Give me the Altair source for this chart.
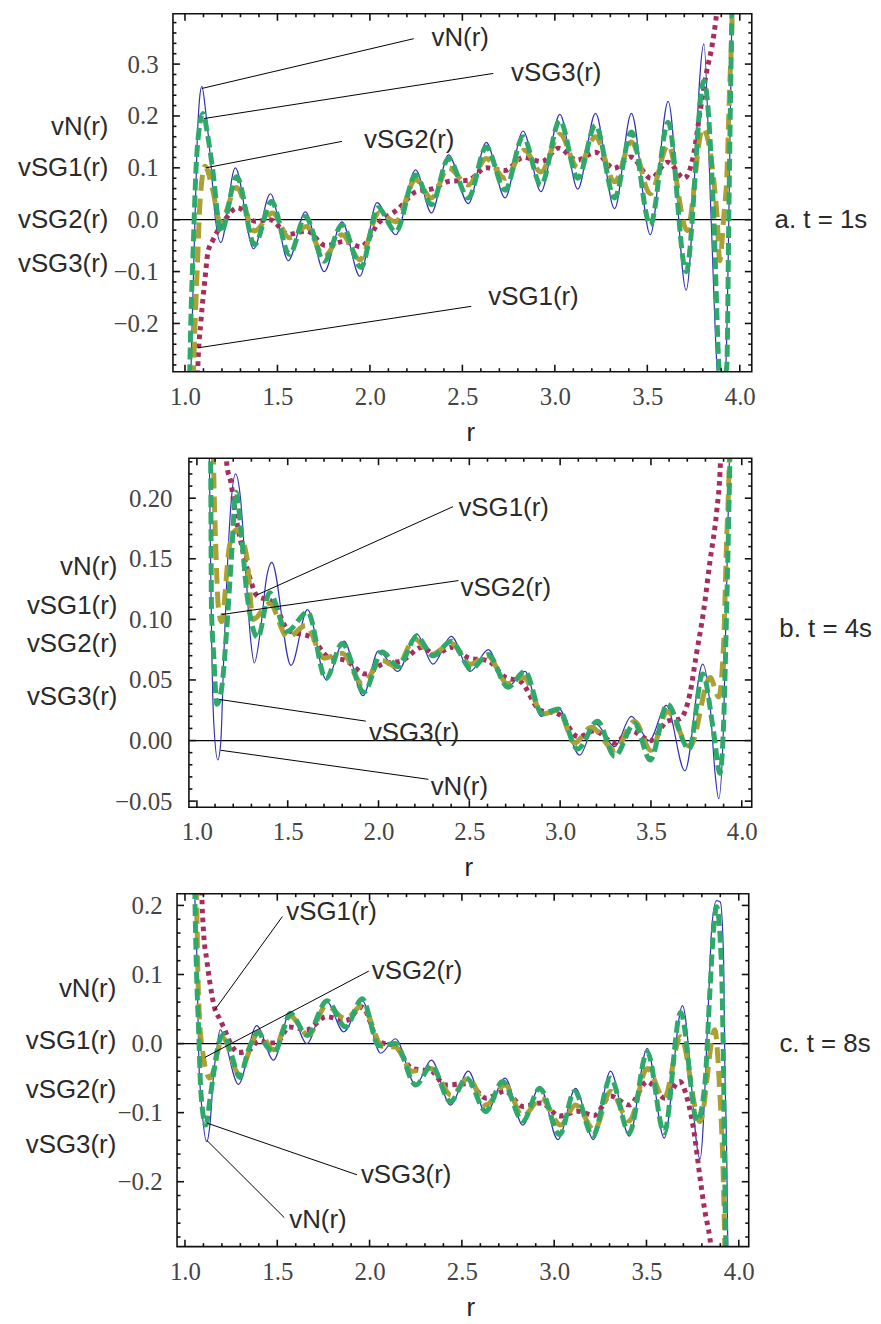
import altair as alt
import pandas as pd

# ---------------- panel a : t = 1s ----------------
a_r_vN = [1.022, 1.035, 1.054, 1.066, 1.078, 1.091, 1.113, 1.14, 1.161, 1.194, 1.272, 1.371, 1.462, 1.559, 1.651,
          1.753, 1.849, 1.946, 2.038, 2.140, 2.247, 2.333, 2.425, 2.532, 2.629, 2.731, 2.828, 2.925, 3.027, 3.124,
          3.220, 3.323, 3.414, 3.516, 3.613, 3.710, 3.806, 3.844, 3.876, 3.900, 3.925, 3.945, 3.957, 3.970]
a_v_vN = [-0.45, -0.25, 0.0, 0.15, 0.23, 0.257, 0.205, 0.109, 0.013, -0.044, 0.100, -0.056, 0.050, -0.079, 0.015,
          -0.100, -0.004, -0.109, 0.033, -0.029, 0.096, 0.013, 0.125, 0.031, 0.149, 0.042, 0.171, 0.054, 0.203, 0.059,
          0.205, 0.021, 0.205, -0.029, 0.228, -0.136, 0.339, 0.013, -0.280, -0.360, -0.280, 0.100, 0.390, 0.600]

a_r_SG1 = [1.060, 1.070, 1.086, 1.108, 1.124, 1.150, 1.188, 1.220, 1.285, 1.380, 1.460, 1.560, 1.660, 1.760, 1.860,
           1.950, 2.050, 2.150, 2.250, 2.340, 2.430, 2.530, 2.630, 2.730, 2.830, 2.930, 3.020, 3.120, 3.220, 3.320,
           3.410, 3.520, 3.610, 3.700, 3.750, 3.785, 3.820, 3.850, 3.870, 3.890]
a_v_SG1 = [-0.42, -0.28, -0.197, -0.115, -0.063, -0.040, -0.015, 0.002, 0.023, -0.003, 0.000, -0.028, -0.022, -0.050,
           -0.042, -0.052, -0.005, 0.020, 0.054, 0.060, 0.074, 0.076, 0.100, 0.095, 0.120, 0.112, 0.138, 0.115, 0.130,
           0.099, 0.121, 0.080, 0.111, 0.080, 0.125, 0.207, 0.284, 0.335, 0.383, 0.450]

a_r_SG2 = [1.035, 1.048, 1.059, 1.070, 1.080, 1.108, 1.150, 1.190, 1.280, 1.376, 1.473, 1.565, 1.656, 1.753, 1.849,
           1.946, 2.048, 2.140, 2.247, 2.333, 2.425, 2.532, 2.629, 2.731, 2.835, 2.925, 3.027, 3.124, 3.220, 3.323,
           3.414, 3.516, 3.613, 3.715, 3.800, 3.876, 3.892, 3.914, 3.930, 3.946, 3.957, 3.970]
a_v_SG2 = [-0.45, -0.268, -0.159, -0.063, 0.027, 0.103, 0.057, -0.005, 0.062, -0.022, 0.013, -0.035, -0.013, -0.071,
           -0.029, -0.077, 0.013, -0.004, 0.077, 0.042, 0.100, 0.067, 0.118, 0.080, 0.134, 0.092, 0.165, 0.100, 0.160,
           0.073, 0.150, 0.050, 0.144, -0.021, 0.176, 0.013, -0.079, 0.008, 0.084, 0.262, 0.364, 0.600]

a_r_SG3 = [1.020, 1.030, 1.045, 1.060, 1.075, 1.097, 1.124, 1.150, 1.194, 1.280, 1.376, 1.468, 1.565, 1.651, 1.753,
           1.849, 1.952, 2.043, 2.140, 2.247, 2.333, 2.425, 2.532, 2.629, 2.731, 2.828, 2.925, 3.027, 3.124, 3.220,
           3.323, 3.414, 3.516, 3.613, 3.710, 3.806, 3.860, 3.887, 3.905, 3.930, 3.941, 3.957, 3.970]
a_v_SG3 = [-0.40, -0.22, -0.05, 0.10, 0.17, 0.205, 0.160, 0.096, -0.025, 0.083, -0.048, 0.035, -0.067, 0.006, -0.080,
           -0.010, -0.092, 0.023, -0.023, 0.086, 0.029, 0.118, 0.042, 0.140, 0.057, 0.160, 0.067, 0.191, 0.080, 0.182,
           0.042, 0.169, -0.010, 0.188, -0.100, 0.268, 0.000, -0.280, -0.330, -0.280, 0.013, 0.390, 0.600]

# ---------------- panel b : t = 4s ----------------
b_r_vN = [1.060, 1.069, 1.075, 1.082, 1.093, 1.115, 1.131, 1.148, 1.166, 1.186, 1.213, 1.240, 1.270, 1.296, 1.316,
          1.350, 1.383, 1.412, 1.518, 1.609, 1.713, 1.810, 1.914, 2.000, 2.106, 2.210, 2.300, 2.400, 2.505, 2.604,
          2.708, 2.806, 2.895, 2.990, 3.107, 3.195, 3.300, 3.392, 3.490, 3.585, 3.687, 3.785, 3.826, 3.853, 3.873,
          3.900, 3.912, 3.928, 3.945]
b_v_vN = [0.300, 0.227, 0.151, 0.075, 0.014, -0.016, -0.002, 0.069, 0.137, 0.192, 0.220, 0.200, 0.137, 0.083, 0.064,
          0.091, 0.134, 0.147, 0.062, 0.108, 0.050, 0.082, 0.037, 0.074, 0.057, 0.088, 0.063, 0.086, 0.057, 0.075,
          0.044, 0.057, 0.020, 0.027, -0.012, 0.014, -0.005, 0.020, 0.000, 0.029, -0.025, 0.063, 0.028, -0.027, -0.048,
          0.014, 0.096, 0.206, 0.320]

b_r_SG1 = [1.155, 1.166, 1.186, 1.213, 1.246, 1.296, 1.328, 1.420, 1.503, 1.630, 1.722, 1.820, 1.930, 2.020, 2.130,
           2.240, 2.310, 2.400, 2.500, 2.600, 2.700, 2.780, 2.890, 2.990, 3.100, 3.190, 3.300, 3.390, 3.500, 3.590,
           3.660, 3.715, 3.750, 3.790, 3.825, 3.862, 3.880, 3.890]
b_v_SG1 = [0.260, 0.226, 0.214, 0.186, 0.161, 0.132, 0.120, 0.114, 0.091, 0.085, 0.069, 0.066, 0.055, 0.063, 0.066,
           0.077, 0.071, 0.077, 0.068, 0.066, 0.052, 0.049, 0.025, 0.022, 0.003, 0.008, -0.002, 0.008, 0.000, 0.016,
           0.018, 0.039, 0.071, 0.107, 0.148, 0.189, 0.221, 0.260]

b_r_SG2 = [1.085, 1.092, 1.104, 1.118, 1.135, 1.180, 1.219, 1.273, 1.310, 1.400, 1.500, 1.600, 1.700, 1.800, 1.910,
           2.020, 2.100, 2.200, 2.290, 2.400, 2.505, 2.600, 2.710, 2.800, 2.905, 2.990, 3.080, 3.170, 3.300, 3.410,
           3.500, 3.590, 3.715, 3.826, 3.873, 3.900, 3.917, 3.928, 3.940]
b_v_SG2 = [0.300, 0.227, 0.160, 0.110, 0.098, 0.161, 0.174, 0.153, 0.100, 0.113, 0.085, 0.095, 0.068, 0.072, 0.047,
           0.066, 0.061, 0.084, 0.071, 0.080, 0.063, 0.070, 0.047, 0.052, 0.022, 0.025, -0.002, 0.011, -0.008, 0.016,
           -0.008, 0.024, -0.005, 0.052, 0.036, 0.080, 0.167, 0.211, 0.300]

b_r_SG3 = [1.072, 1.076, 1.080, 1.093, 1.110, 1.137, 1.166, 1.190, 1.215, 1.245, 1.273, 1.300, 1.335, 1.400, 1.495,
           1.610, 1.710, 1.800, 1.920, 2.020, 2.110, 2.210, 2.300, 2.400, 2.510, 2.604, 2.713, 2.806, 2.900, 2.990,
           3.096, 3.206, 3.300, 3.410, 3.496, 3.590, 3.710, 3.785, 3.846, 3.880, 3.900, 3.917, 3.934, 3.945]
b_v_SG3 = [0.300, 0.227, 0.110, 0.069, 0.030, 0.044, 0.096, 0.151, 0.205, 0.170, 0.124, 0.098, 0.085, 0.122, 0.090,
           0.106, 0.051, 0.080, 0.040, 0.073, 0.061, 0.086, 0.070, 0.082, 0.059, 0.071, 0.044, 0.057, 0.022, 0.026,
           -0.007, 0.016, -0.013, 0.014, -0.016, 0.030, -0.007, 0.055, 0.006, -0.027, 0.014, 0.110, 0.227, 0.320]

# ---------------- panel c : t = 8s ----------------
c_r_vN = [1.050, 1.054, 1.065, 1.075, 1.092, 1.118, 1.135, 1.156, 1.172, 1.190, 1.290, 1.388, 1.480, 1.570, 1.660,
          1.765, 1.860, 1.960, 2.060, 2.140, 2.250, 2.335, 2.438, 2.535, 2.630, 2.734, 2.830, 2.922, 3.020, 3.116,
          3.213, 3.305, 3.407, 3.504, 3.596, 3.695, 3.790, 3.838, 3.854, 3.880, 3.900, 3.918, 3.924, 3.935, 3.940,
          3.945]
c_v_vN = [0.300, 0.210, 0.121, -0.023, -0.095, -0.142, -0.118, -0.042, -0.009, 0.020, -0.059, 0.026, -0.024, 0.046,
          0.000, 0.062, 0.017, 0.062, -0.014, 0.007, -0.060, -0.024, -0.089, -0.040, -0.101, -0.050, -0.118, -0.062,
          -0.139, -0.065, -0.139, -0.040, -0.134, -0.007, -0.137, 0.055, -0.167, 0.073, 0.170, 0.207, 0.205, 0.121,
          -0.023, -0.167, -0.282, -0.360]

c_r_SG1 = [1.088, 1.092, 1.100, 1.118, 1.135, 1.160, 1.190, 1.215, 1.253, 1.290, 1.350, 1.400, 1.450, 1.495, 1.565,
           1.660, 1.765, 1.870, 1.960, 2.050, 2.140, 2.230, 2.335, 2.410, 2.535, 2.630, 2.734, 2.830, 2.930, 3.030,
           3.127, 3.218, 3.305, 3.407, 3.504, 3.600, 3.680, 3.720, 3.757, 3.790, 3.816, 3.843, 3.860]
c_v_SG1 = [0.260, 0.210, 0.164, 0.121, 0.088, 0.052, 0.035, 0.020, -0.003, -0.013, -0.009, 0.004, 0.001, 0.001, 0.024,
           0.020, 0.039, 0.033, 0.053, 0.003, -0.004, -0.036, -0.040, -0.060, -0.058, -0.079, -0.069, -0.091, -0.086,
           -0.105, -0.098, -0.104, -0.076, -0.089, -0.055, -0.079, -0.055, -0.079, -0.127, -0.194, -0.242, -0.281,
           -0.320]

c_r_SG2 = [1.058, 1.064, 1.070, 1.078, 1.095, 1.108, 1.135, 1.205, 1.290, 1.400, 1.480, 1.570, 1.668, 1.765, 1.870,
           1.960, 2.070, 2.140, 2.230, 2.335, 2.443, 2.535, 2.630, 2.734, 2.830, 2.930, 3.035, 3.116, 3.218, 3.305,
           3.407, 3.504, 3.596, 3.685, 3.790, 3.870, 3.895, 3.918, 3.925]
c_v_SG2 = [0.300, 0.200, 0.100, 0.040, -0.010, -0.032, -0.050, 0.008, -0.042, 0.016, -0.009, 0.040, 0.012, 0.055,
           0.036, 0.055, -0.004, -0.005, -0.040, -0.036, -0.075, -0.050, -0.089, -0.060, -0.105, -0.079, -0.118,
           -0.089, -0.125, -0.069, -0.112, -0.036, -0.079, 0.010, -0.113, 0.020, -0.060, -0.214, -0.300]

c_r_SG3 = [1.050, 1.054, 1.060, 1.075, 1.086, 1.113, 1.135, 1.156, 1.183, 1.210, 1.253, 1.296, 1.344, 1.398, 1.440,
           1.485, 1.533, 1.570, 1.660, 1.770, 1.870, 1.960, 2.050, 2.140, 2.250, 2.335, 2.438, 2.525, 2.630, 2.720,
           2.830, 2.922, 3.030, 3.110, 3.210, 3.305, 3.407, 3.504, 3.596, 3.685, 3.775, 3.816, 3.843, 3.865, 3.880,
           3.905, 3.918, 3.926, 3.932]
c_v_SG3 = [0.300, 0.210, 0.130, 0.012, -0.070, -0.118, -0.081, -0.042, 0.001, 0.013, -0.017, -0.049, -0.009, 0.016,
           -0.003, -0.013, 0.020, 0.044, 0.012, 0.062, 0.024, 0.065, -0.003, 0.000, -0.060, -0.032, -0.084, -0.050,
           -0.098, -0.055, -0.112, -0.065, -0.132, -0.069, -0.134, -0.050, -0.129, -0.012, -0.129, 0.045, -0.112,
           -0.060, 0.073, 0.170, 0.198, 0.120, -0.050, -0.230, -0.330]

# ---------------- annotations (leader lines and labels, data coordinates) ----------------
series_names = ["vN(r)", "vSG1(r)", "vSG2(r)", "vSG3(r)"]

a_ann_label = ["vN(r)", "vSG3(r)", "vSG2(r)", "vSG1(r)"]
a_ann_x1 = [1.091, 1.102, 1.113, 1.070]
a_ann_y1 = [0.253, 0.195, 0.100, -0.247]
a_ann_x2 = [2.237, 2.667, 1.849, 2.548]
a_ann_y2 = [0.349, 0.282, 0.151, -0.167]
a_ann_tx = [2.333, 2.763, 1.968, 2.640]
a_ann_ty = [0.351, 0.282, 0.153, -0.149]

b_ann_label = ["vSG1(r)", "vSG2(r)", "vSG3(r)", "vN(r)"]
b_ann_x1 = [1.328, 1.137, 1.120, 1.130]
b_ann_y1 = [0.120, 0.104, 0.034, -0.008]
b_ann_x2 = [2.410, 2.440, 1.930, 2.275]
b_ann_y2 = [0.193, 0.132, 0.016, -0.032]
b_ann_tx = [2.440, 2.452, 1.947, 2.287]
b_ann_ty = [0.192, 0.126, 0.006, -0.038]

c_ann_label = ["vSG1(r)", "vSG2(r)", "vSG3(r)", "vN(r)"]
c_ann_x1 = [1.162, 1.108, 1.118, 1.118]
c_ann_y1 = [0.049, -0.020, -0.115, -0.140]
c_ann_x2 = [1.528, 1.996, 1.932, 1.538]
c_ann_y2 = [0.184, 0.105, -0.190, -0.252]
c_ann_tx = [1.549, 2.012, 1.953, 1.565]
c_ann_ty = [0.190, 0.105, -0.190, -0.255]

a_left_x, a_left_y = 0.586, [0.178, 0.100, 0.000, -0.086]
b_left_x, b_left_y = 0.562, [0.143, 0.111, 0.080, 0.036]
c_left_x, c_left_y = 0.628, [0.079, 0.004, -0.068, -0.147]

a_tag, a_tag_x, a_tag_y = "a. t = 1s", 4.188, 0.000
b_tag, b_tag_x, b_tag_y = "b. t = 4s", 4.207, 0.092
c_tag, c_tag_x, c_tag_y = "c. t = 8s", 4.220, 0.000

# frame extents (r) and y ranges of the three panels
a_frame, a_ydom = [0.935, 4.065], [-0.293, 0.397]
b_frame, b_ydom = [0.956, 4.055], [-0.055, 0.233]
c_frame, c_ydom = [0.957, 4.054], [-0.294, 0.217]

# tick values
x_major = [1.0, 1.5, 2.0, 2.5, 3.0, 3.5, 4.0]
x_minor = [round(1.0 + 0.1 * k, 2) for k in range(31)]
a_y_major = [-0.2, -0.1, 0.0, 0.1, 0.2, 0.3]
a_y_minor = [round(-0.28 + 0.02 * k, 2) for k in range(34)]
b_y_major = [-0.05, 0.0, 0.05, 0.10, 0.15, 0.20]
b_y_minor = [round(-0.05 + 0.01 * k, 2) for k in range(29)]
c_y_major = [-0.2, -0.1, 0.0, 0.1, 0.2]
c_y_minor = [round(-0.28 + 0.02 * k, 2) for k in range(25)]

STYLE = {
    "vN(r)": dict(color="#3232b2", strokeWidth=1.2),
    "vSG1(r)": dict(color="#a52d60", strokeWidth=5, strokeDash=[4.5, 4.5]),
    "vSG2(r)": dict(color="#aaa034", strokeWidth=5, strokeDash=[16, 8]),
    "vSG3(r)": dict(color="#2fa86b", strokeWidth=5, strokeDash=[12, 5]),
}
SANS = "Liberation Sans"
SERIF = "Liberation Serif"
TXT = 26
VIEW_W = 582          # common view: left edge of panel a's frame to the right edge
VIEW_LEFT_PX = 173    # page x of the common view's left edge


def make_panel(curves, frame, xpx, ydom, H, yvals, yminor, yfmt, lpad, title_x, ann, left_x, left_y, tag):
    # xpx: page pixel of r = 1.0 and r = 4.0 in this panel, used to place the shared view
    ppu = (xpx[1] - xpx[0]) / 3.0
    xdom = [1.0 - (xpx[0] - VIEW_LEFT_PX) / ppu, 1.0 - (xpx[0] - VIEW_LEFT_PX - VIEW_W) / ppu]
    xs = alt.Scale(domain=xdom, nice=False, zero=False)
    ys = alt.Scale(domain=ydom, nice=False, zero=False)
    xaxis = alt.Axis(values=x_major, format=".1f", title="r", ticks=False, tickSize=0, domain=False, grid=False,
                     labelPadding=13, titlePadding=10, titleX=title_x, labelFlush=False, labelOverlap=False)
    yaxis = alt.Axis(values=yvals, format=yfmt, title=None, ticks=False, tickSize=0, domain=False, grid=False,
                     labelPadding=lpad, labelFlush=False, labelOverlap=False)

    def X(f):
        return alt.X(f, type="quantitative", scale=xs, axis=xaxis)

    def Y(f):
        return alt.Y(f, type="quantitative", scale=ys, axis=yaxis)

    # frame box
    fdf = pd.DataFrame({"x1": [frame[0]], "x2": [frame[1]], "y1": [ydom[0]], "y2": [ydom[1]]})
    box = alt.Chart(fdf).mark_rect(fillOpacity=0, stroke="#111", strokeWidth=1.6).encode(
        x=X("x1"), x2="x2", y=Y("y1"), y2="y2")

    # inward frame ticks (7 px major, 3.5 px minor)
    dy = 7 * (ydom[1] - ydom[0]) / H
    dx = 7 / ppu
    xt = pd.DataFrame({"pos": x_minor, "d": [dy if v in x_major else dy / 2 for v in x_minor]})
    xt["b1"] = ydom[0]
    xt["b2"] = ydom[0] + xt["d"]
    xt["t1"] = ydom[1]
    xt["t2"] = ydom[1] - xt["d"]
    yt = pd.DataFrame({"pos": yminor,
                       "d": [dx if any(abs(v - m) < 1e-9 for m in yvals) else dx / 2 for v in yminor]})
    yt["l1"] = frame[0]
    yt["l2"] = frame[0] + yt["d"]
    yt["r1"] = frame[1]
    yt["r2"] = frame[1] - yt["d"]
    tick_style = dict(color="#111", strokeWidth=1.6)
    t_bottom = alt.Chart(xt).mark_rule(**tick_style).encode(x=X("pos"), y=Y("b1"), y2="b2")
    t_top = alt.Chart(xt).mark_rule(**tick_style).encode(x=X("pos"), y=Y("t1"), y2="t2")
    t_left = alt.Chart(yt).mark_rule(**tick_style).encode(y=Y("pos"), x=X("l1"), x2="l2")
    t_right = alt.Chart(yt).mark_rule(**tick_style).encode(y=Y("pos"), x=X("r1"), x2="r2")

    zdf = pd.DataFrame({"x1": [frame[0]], "x2": [frame[1]], "z": [0.0]})
    zero = alt.Chart(zdf).mark_rule(color="black", strokeWidth=1.3).encode(x=X("x1"), x2="x2", y=Y("z"))

    layers = [zero]
    for name, (r, v) in zip(series_names, curves):
        df = pd.DataFrame({"r": r, "v": v})
        layers.append(alt.Chart(df).mark_line(interpolate="monotone", clip=True, **STYLE[name]).encode(
            x=X("r"), y=Y("v")))
    layers += [box, t_bottom, t_top, t_left, t_right]

    lab, x1, y1, x2, y2, tx, ty = ann
    adf = pd.DataFrame({"x1": x1, "y1": y1, "x2": x2, "y2": y2})
    layers.append(alt.Chart(adf).mark_rule(color="black", strokeWidth=1).encode(
        x=X("x1"), y=Y("y1"), x2="x2", y2="y2"))
    tdf = pd.DataFrame({"x": tx, "y": ty, "label": lab})
    layers.append(alt.Chart(tdf).mark_text(align="left", baseline="middle", font=SANS, fontSize=TXT,
                                           color="#2a2a2a").encode(x=X("x"), y=Y("y"), text="label:N"))
    ldf = pd.DataFrame({"x": [left_x] * 4, "y": left_y, "label": series_names})
    layers.append(alt.Chart(ldf).mark_text(align="right", baseline="middle", font=SANS, fontSize=TXT,
                                           color="#2a2a2a").encode(x=X("x"), y=Y("y"), text="label:N"))
    rdf = pd.DataFrame({"x": [tag[1]], "y": [tag[2]], "label": [tag[0]]})
    layers.append(alt.Chart(rdf).mark_text(align="left", baseline="middle", font=SANS, fontSize=TXT,
                                           color="#2a2a2a").encode(x=X("x"), y=Y("y"), text="label:N"))
    return alt.layer(*layers).properties(width=VIEW_W, height=H)


pa = make_panel([(a_r_vN, a_v_vN), (a_r_SG1, a_v_SG1), (a_r_SG2, a_v_SG2), (a_r_SG3, a_v_SG3)],
                a_frame, [185, 743], a_ydom, 360, a_y_major, a_y_minor, ".1f", 15, 299,
                (a_ann_label, a_ann_x1, a_ann_y1, a_ann_x2, a_ann_y2, a_ann_tx, a_ann_ty),
                a_left_x, a_left_y, (a_tag, a_tag_x, a_tag_y))
pb = make_panel([(b_r_vN, b_v_vN), (b_r_SG1, b_v_SG1), (b_r_SG2, b_v_SG2), (b_r_SG3, b_v_SG3)],
                b_frame, [197, 745], b_ydom, 351, b_y_major, b_y_minor, ".2f", 1, 297,
                (b_ann_label, b_ann_x1, b_ann_y1, b_ann_x2, b_ann_y2, b_ann_tx, b_ann_ty),
                b_left_x, b_left_y, (b_tag, b_tag_x, b_tag_y))
pc = make_panel([(c_r_vN, c_v_vN), (c_r_SG1, c_v_SG1), (c_r_SG2, c_v_SG2), (c_r_SG3, c_v_SG3)],
                c_frame, [185, 742], c_ydom, 355, c_y_major, c_y_minor, ".1f", 11, 299,
                (c_ann_label, c_ann_x1, c_ann_y1, c_ann_x2, c_ann_y2, c_ann_tx, c_ann_ty),
                c_left_x, c_left_y, (c_tag, c_tag_x, c_tag_y))

chart = alt.vconcat(pa, pb, pc, spacing=87, bounds="flush").resolve_scale(
    x="independent", y="independent").properties(
    padding={"left": 9, "top": 0, "right": 0, "bottom": 0}).configure_view(
    stroke="transparent").configure_axis(
    labelFont=SERIF, labelFontSize=25, labelColor="#444", titleFont=SANS, titleFontSize=26,
    titleFontWeight="normal", titleColor="#222")

chart.save("out.html", embed_options={"renderer": "svg", "actions": False})
